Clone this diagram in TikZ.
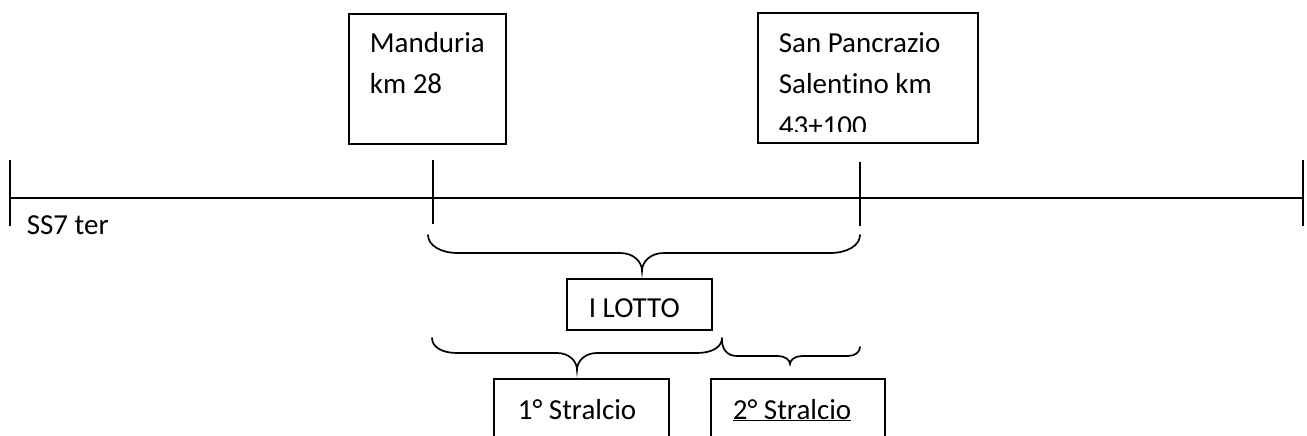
\documentclass[tikz,border=0pt]{standalone}
\usepackage{fontspec}
\setmainfont[Ligatures={NoCommon},RawFeature={-liga;-clig;-dlig}]{Carlito}
\begin{document}
\begin{tikzpicture}[x=1pt,y=-1pt,line width=1.7pt,
  box/.style={draw,inner sep=0pt,anchor=north west},
  openbox/.style={inner sep=0pt,anchor=north west},
  txt/.style={anchor=base west,inner sep=0pt,font=\fontsize{29}{35}\selectfont},
  brace/.style={line width=1.7pt,line cap=round}]
\useasboundingbox (0,0) rectangle (1307,436);
% main road line
\coordinate (L) at (10,198);
\coordinate (R) at (1303,198);
\draw (L) -- (R);
\coordinate (t1a) at (10,160);   \coordinate (t1b) at (10,226);
\coordinate (t2a) at (433,160);  \coordinate (t2b) at (433,224);
\coordinate (t3a) at (860,162);  \coordinate (t3b) at (860,226);
\coordinate (t4a) at (1303,160); \coordinate (t4b) at (1303,226);
\draw (t1a) -- (t1b);
\draw (t2a) -- (t2b);
\draw (t3a) -- (t3b);
\draw (t4a) -- (t4b);
\node[txt] (ss7) at (26,234) {SS7 ter};
% Manduria box
\node[box,minimum width=157pt,minimum height=130pt] (mand) at (348,13) {};
\node[txt] (mand1) at (369,53) {Manduria};
\node[txt] (mand2) at (369,93) {km 28};
% San Pancrazio box
\node[box,minimum width=220pt,minimum height=130pt] (sanp) at (757,12) {};
\begin{scope}
  \clip (757,12) rectangle (977,131);
  \node[txt] (sanp1) at (778,53) {San Pancrazio};
  \node[txt] (sanp2) at (778,93) {Salent\kern0pt ino km};
  \node[txt] (sanp3) at (778,135) {43+100};
\end{scope}
% big brace
\draw[brace] (428,235) .. controls (428,245) and (440,253) .. (458,253) -- (620,253)
  .. controls (634,253) and (642,262) .. (642,271)
  .. controls (642,262) and (650,253) .. (664,253) -- (830,253)
  .. controls (848,253) and (860,245) .. (860,235);
% I LOTTO
\node[box,minimum width=145pt,minimum height=51pt] (lotto) at (566,278) {};
\node[txt] (lottot) at (588,317) {I LOTTO};
% small braces
\draw[brace] (432,338) .. controls (432,347) and (442,353) .. (457,353) -- (557,353)
  .. controls (569,353) and (577,361) .. (577,370)
  .. controls (577,361) and (585,353) .. (597,353) -- (697,353)
  .. controls (712,353) and (722,347) .. (722,338);
\draw[brace] (722,340) .. controls (722,350) and (728,356) .. (737,356) -- (778,356)
  .. controls (785,356) and (790,360) .. (790,364)
  .. controls (790,360) and (795,356) .. (802,356) -- (848,356)
  .. controls (855,356) and (860,352) .. (860,347);
% Stralcio boxes (cut by page bottom)
\node[openbox,minimum width=173pt,minimum height=57pt] (s1) at (494,379) {};
\draw (s1.south west) -- (s1.north west) -- (s1.north east) -- (s1.south east);
\node[txt] (s1t) at (517,419) {1° Stralcio};
\node[openbox,minimum width=172pt,minimum height=57pt] (s2) at (711,379) {};
\draw (s2.south west) -- (s2.north west) -- (s2.north east) -- (s2.south east);
\node[txt] (s2t) at (732,419) {\underline{2° Stralcio}};
\end{tikzpicture}
\end{document}
